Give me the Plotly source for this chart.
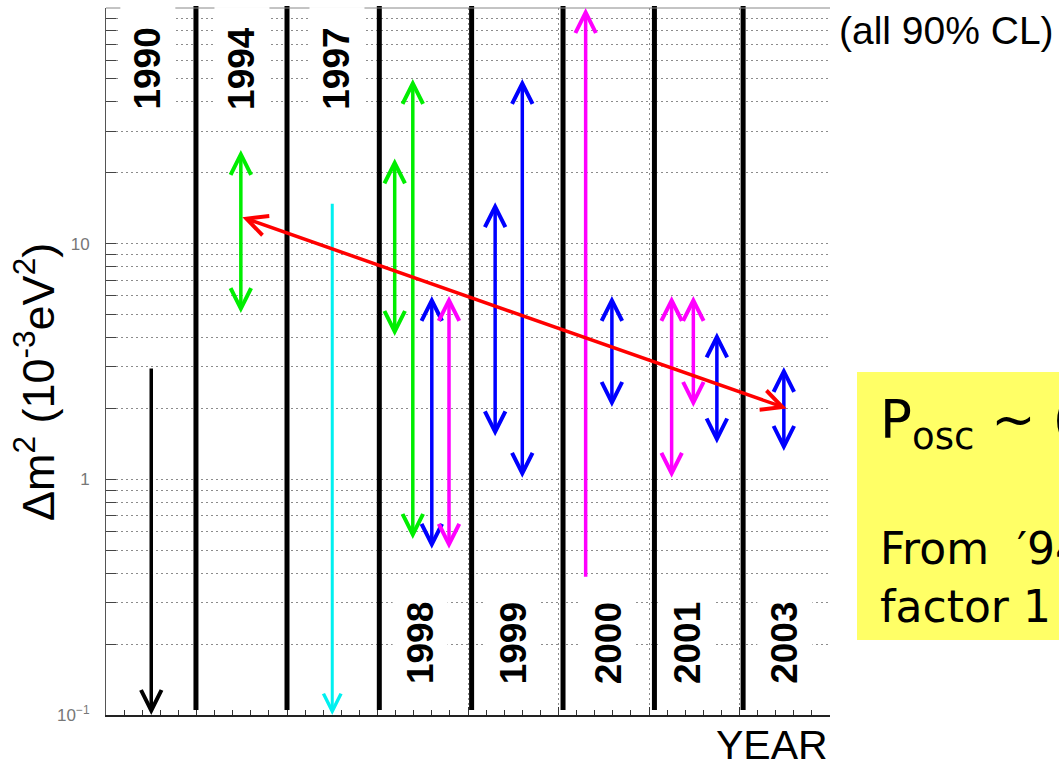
import math
import plotly.graph_objects as go

# Year columns, left to right
years = ["1990", "1994", "1997", "1998", "1999", "2000", "2001", "2003"]

# 90% CL allowed ranges of Δm² (10^-3 eV²), one entry per published limit
limit_year = ["1990", "1994", "1997", "1998", "1998", "1998", "1998",
              "1999", "1999", "2000", "2000", "2001", "2001", "2001", "2003"]
limit_low = [0.1, 5.0, 0.1, 4.0, 0.55, 0.5, 0.5,
             1.5, 1.0, 0.38, 2.0, 1.0, 2.0, 1.4, 1.3]
limit_high = [3.0, 25.0, 15.0, 23.0, 50.0, 6.0, 6.0,
              15.0, 50.0, 100.0, 6.0, 6.0, 6.0, 4.2, 3.0]
# which ends carry an arrow head
limit_heads = ["low", "both", "low", "both", "both", "both", "both",
               "both", "both", "high", "both", "both", "both", "both", "both"]
limit_group = ["k", "g", "c", "g", "g", "b", "m",
               "b", "b", "m", "b", "m", "m", "b", "b"]

# Trend of the central value from 1994 to 2003
trend_year = ["1994", "2003"]
trend_value = [13.0, 2.0]

# ---- drawing style -------------------------------------------------------
group_color = {"k": "#000000", "g": "#00ee00", "c": "#00f0f0",
               "b": "#0000ff", "m": "#ff00ff"}
group_width = {"k": 3.5, "g": 3.5, "c": 3, "b": 3.5, "m": 3.5}
# horizontal slot of each limit inside its year column (0..1)
limit_slot = [0.50, 0.49, 0.50, 0.19, 0.39, 0.60, 0.79,
              0.30, 0.60, 0.30, 0.59, 0.25, 0.49, 0.75, 0.49]
trend_slot = [0.49, 0.52]
# label placement inside each column: slot and top/bottom
label_slot = [0.46, 0.50, 0.55, 0.47, 0.50, 0.55, 0.42, 0.50]
label_top = [True, True, True, False, False, False, False, False]
# column separators (slightly hand-placed)
separator_x = [0.994, 2.0, 3.02, 4.04, 5.05, 6.06, 7.04]

col = {y: i for i, y in enumerate(years)}
FONT = "Liberation Sans, Arial, Helvetica, sans-serif"
NOTE_FONT = "DejaVu Sans, Verdana, sans-serif"
HEAD = 1.15

fig = go.Figure()
# invisible trace to set up the axes
fig.add_trace(go.Scatter(x=[0, len(years)], y=[0.1, 100], mode="markers",
                         marker=dict(opacity=0), hoverinfo="skip",
                         showlegend=False))

# column separators
for sx in separator_x:
    fig.add_shape(type="line", xref="x", yref="paper", x0=sx, x1=sx,
                  y0=0.007, y1=1.003, line=dict(color="black", width=5),
                  layer="above")

# top frame line
fig.add_shape(type="line", xref="paper", yref="paper", x0=0, x1=1, y0=1, y1=1,
              line=dict(color="#888888", width=1))

# year labels on white boxes
for yr, slot, top in zip(years, label_slot, label_top):
    fig.add_annotation(x=col[yr] + slot, xref="x",
                       y=0.914 if top else 0.102, yref="paper",
                       text="<b>%s</b>" % yr, textangle=-90, showarrow=False,
                       font=dict(family=FONT, size=37, color="black"),
                       bgcolor="white", width=120, height=52,
                       xanchor="center", yanchor="middle")

# limit arrows
for yr, lo, hi, hd, g, slot in zip(limit_year, limit_low, limit_high,
                                   limit_heads, limit_group, limit_slot):
    x = col[yr] + slot
    if hd == "low":
        tip, tail, side = lo, hi, "end"
    else:
        tip, tail = hi, lo
        side = "end" if hd == "high" else "end+start"
    fig.add_annotation(x=x, y=math.log10(tip), ax=x, ay=math.log10(tail),
                       xref="x", yref="y", axref="x", ayref="y", text="",
                       showarrow=True, arrowside=side,
                       arrowhead=5, startarrowhead=5,
                       arrowsize=HEAD, startarrowsize=HEAD,
                       arrowwidth=group_width[g], arrowcolor=group_color[g],
                       standoff=0, startstandoff=0)

# trend arrow
tx = [col[y] + s for y, s in zip(trend_year, trend_slot)]
fig.add_annotation(x=tx[1], y=math.log10(trend_value[1]),
                   ax=tx[0], ay=math.log10(trend_value[0]),
                   xref="x", yref="y", axref="x", ayref="y", text="",
                   showarrow=True, arrowside="end+start",
                   arrowhead=5, startarrowhead=5,
                   arrowsize=HEAD, startarrowsize=HEAD,
                   arrowwidth=3.5, arrowcolor="#ff0000",
                   standoff=0, startstandoff=0)

# axis titles and side notes
fig.add_annotation(xref="paper", yref="paper", x=-0.098, y=0.471,
                   xanchor="center", yanchor="middle",
                   text="Δm<sup>2</sup> (10<sup>-3</sup>eV<sup>2</sup>)",
                   textangle=-90, showarrow=False,
                   font=dict(family=FONT, size=45, color="black"))
fig.add_annotation(xref="paper", yref="paper", x=1.0, y=-0.043,
                   xanchor="right", yanchor="middle", text="YEAR",
                   showarrow=False, font=dict(family=FONT, size=41, color="black"))
fig.add_annotation(xref="paper", yref="paper", x=1.0097, y=0.9675,
                   xanchor="left", yanchor="middle", text="(all 90% CL)",
                   showarrow=False, font=dict(family=FONT, size=39, color="black"))

# yellow note box
fig.add_shape(type="rect", xref="paper", yref="paper",
              x0=1.0373, x1=1.35, y0=0.106, y1=0.485,
              fillcolor="#ffff66", line=dict(width=0), layer="below")
fig.add_annotation(xref="paper", yref="paper", x=1.0663, y=0.412,
                   xanchor="left", yanchor="middle",
                   text="P<sub>osc</sub> ~ (", showarrow=False,
                   font=dict(family=NOTE_FONT, size=53, color="black"))
fig.add_annotation(xref="paper", yref="paper", x=1.0663, y=0.236,
                   xanchor="left", yanchor="middle", text="From\u00a0 ′94",
                   showarrow=False, font=dict(family=NOTE_FONT, size=44, color="black"))
fig.add_annotation(xref="paper", yref="paper", x=1.0663, y=0.154,
                   xanchor="left", yanchor="middle", text="factor 1",
                   showarrow=False, font=dict(family=NOTE_FONT, size=44, color="black"))

# log tick positions: every 1..9 per decade, labels only on decades
tickvals, ticktext = [], []
for e in (-1, 0, 1):
    for k in range(1, 10):
        tickvals.append(k * 10.0 ** e)
        ticktext.append("")
tickvals.append(100.0)
ticktext.append("")
ticktext[0] = "10<sup>−1</sup>"
ticktext[9] = "1"
ticktext[18] = "10"

fig.update_layout(
    width=1059, height=766,
    margin=dict(l=106, r=229, t=8, b=51),
    paper_bgcolor="white", plot_bgcolor="white",
    showlegend=False,
    xaxis=dict(range=[0, len(years)], showticklabels=False,
               showgrid=True, gridcolor="#8c8c8c", griddash="2px,3px",
               gridwidth=1, tick0=0, dtick=1, ticks="inside", ticklen=8,
               tickcolor="#333333", zeroline=False,
               showline=True, linecolor="#222222", linewidth=1.5,
               minor=dict(dtick=0.2, ticks="inside", ticklen=5,
                          tickcolor="#333333", showgrid=False)),
    yaxis=dict(type="log", range=[-1, 2], tickmode="array",
               tickvals=tickvals, ticktext=ticktext,
               showgrid=True, gridcolor="#8c8c8c", griddash="2px,3px",
               gridwidth=1, ticks="inside", ticklen=10, tickcolor="#444444",
               tickfont=dict(family=FONT, size=17, color="#777777"),
               ticklabelstandoff=12,
               showline=True, linecolor="#555555", linewidth=1,
               zeroline=False),
)

fig.write_html("out.html")
